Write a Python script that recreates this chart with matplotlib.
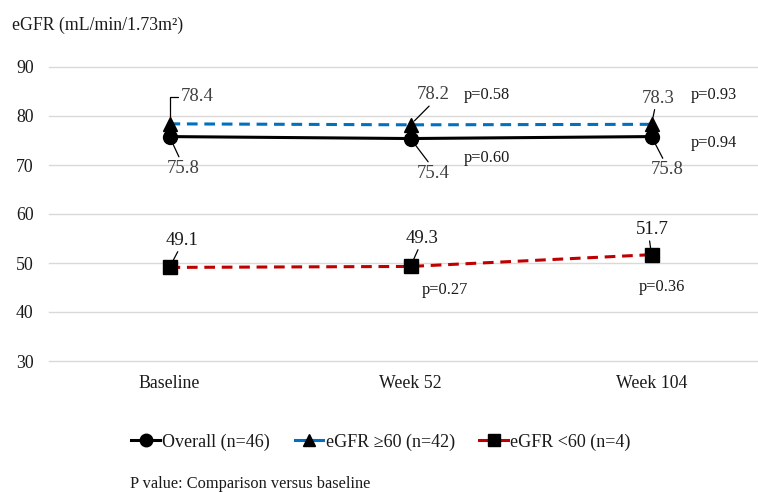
import matplotlib
matplotlib.use("Agg")
import matplotlib.pyplot as plt
from matplotlib.lines import Line2D

plt.rcParams['font.family'] = ['Liberation Serif', 'DejaVu Serif']

categories = ["Baseline", "Week 52", "Week 104"]
overall = [75.8, 75.4, 75.8]
egfr_ge60 = [78.4, 78.2, 78.3]
egfr_lt60 = [49.1, 49.3, 51.7]
p_overall = ["p=0.60", "p=0.94"]
p_ge60 = ["p=0.58", "p=0.93"]
p_lt60 = ["p=0.27", "p=0.36"]
yticks = [30, 40, 50, 60, 70, 80, 90]
legend_labels = ["Overall (n=46)", "eGFR \u226560 (n=42)", "eGFR <60 (n=4)"]

W, H = 758, 492
fig = plt.figure(figsize=(W / 100, H / 100), dpi=100)
ax = fig.add_axes([49 / W, (H - 361) / H, (W - 49) / W, 294 / H])
x = list(range(len(categories)))
ax.set_xlim(-0.5, -0.5 + 709 / 241)
ax.set_ylim(30, 90)
ax.set_yticks(yticks)
ax.set_xticks(x)
ax.set_xticklabels(categories)
ax.grid(axis='y', color='#D9D9D9', lw=1)
for gl in ax.yaxis.get_gridlines():
    gl.set_clip_on(False)
ax.set_axisbelow(True)
for s in ax.spines.values():
    s.set_visible(False)
ax.tick_params(axis='both', length=0, labelsize=12.8, colors='#1a1a1a')
ax.tick_params(axis='y', pad=11)
ax.tick_params(axis='x', pad=10)

l1, = ax.plot(x, overall, color='black', lw=2.2, marker='o', ms=10, mfc='black', mec='black', zorder=4)
l2, = ax.plot(x, egfr_ge60, color='#0070C0', lw=2.2, ls=(0, (3.5, 2.2)), marker='^', ms=10.5,
              mfc='black', mec='black', zorder=5)
l3, = ax.plot(x, egfr_lt60, color='#C00000', lw=2.2, ls=(0, (3.5, 2.2)), marker='s', ms=10,
              mfc='black', mec='black', zorder=5)

lab_col = '#404040'

def lab(xi, yv, dx, dy, text, leader=True, conn=None, shrinkB=3, fs=13.5, color=lab_col, ha='center', relpos=(0.5, 0.5)):
    kw = {}
    if leader:
        ap = dict(arrowstyle='-', color='black', lw=0.9, shrinkA=0, shrinkB=shrinkB, relpos=relpos)
        if conn:
            ap['connectionstyle'] = conn
        kw['arrowprops'] = ap
    ax.annotate(text, xy=(xi, yv), xytext=(dx, dy), textcoords='offset pixels',
                ha=ha, va='center', fontsize=fs, color=color, zorder=6, **kw)

# eGFR >=60 labels
lab(0, egfr_ge60[0], 11, 27, f"{egfr_ge60[0]}", ha='left', relpos=(0, 0.5),
    conn="angle,angleA=180,angleB=90,rad=0", shrinkB=5)
lab(1, egfr_ge60[1], 23, 30, f"{egfr_ge60[1]}", relpos=(0.45, 0.0), shrinkB=4)
lab(2, egfr_ge60[2], 7, 26, f"{egfr_ge60[2]}", relpos=(0.4, 0.0), shrinkB=5)
# overall labels
lab(0, overall[0], 14, -31.5, f"{overall[0]}", relpos=(0.4, 1.0), shrinkB=3)
lab(1, overall[1], 23, -34.5, f"{overall[1]}", relpos=(0.4, 1.0), shrinkB=3)
lab(2, overall[2], 16, -33, f"{overall[2]}", relpos=(0.4, 1.0), shrinkB=3)
# <60 labels
for i, (dx, dy) in enumerate([(13, 27), (12, 28), (1, 25)]):
    lab(i, egfr_lt60[i], dx, dy, f"{egfr_lt60[i]}", relpos=(0.4, 0.0), shrinkB=4, color='#1a1a1a')

# p values
pc = '#1a1a1a'
pfs = 11.8
lab(1, egfr_ge60[1], 53, 30, p_ge60[0], leader=False, ha='left', fs=pfs, color=pc)
lab(2, egfr_ge60[2], 39, 29, p_ge60[1], leader=False, ha='left', fs=pfs, color=pc)
lab(1, overall[1], 53, -19.5, p_overall[0], leader=False, ha='left', fs=pfs, color=pc)
lab(2, overall[2], 39, -6.5, p_overall[1], leader=False, ha='left', fs=pfs, color=pc)
lab(1, egfr_lt60[1], 11, -23.6, p_lt60[0], leader=False, ha='left', fs=pfs, color=pc)
lab(2, egfr_lt60[2], -13, -32, p_lt60[1], leader=False, ha='left', fs=pfs, color=pc)

fig.text(12 / W, 1 - 25 / H, "eGFR (mL/min/1.73m\u00b2)", fontsize=12.8, va='center', ha='left', color='#1a1a1a')

h1 = Line2D([], [], color='black', lw=2.2, marker='o', ms=9, mfc='black', mec='black')
h2 = Line2D([], [], color='#0070C0', lw=2.2, marker='^', ms=9, mfc='black', mec='black')
h3 = Line2D([], [], color='#C00000', lw=2.2, marker='s', ms=9, mfc='black', mec='black')
fig.legend([h1, h2, h3], legend_labels, loc='center', bbox_to_anchor=(381 / W, 1 - 442 / H),
           ncol=3, frameon=False, fontsize=13, handlelength=1.6, handletextpad=0.12,
           columnspacing=1.35, labelcolor='#1a1a1a')

fig.text(130 / W, 1 - 484 / H, "P value: Comparison versus baseline", fontsize=11.8, va='center',
         ha='left', color='#1a1a1a')

fig.savefig("out.png", dpi=100)
